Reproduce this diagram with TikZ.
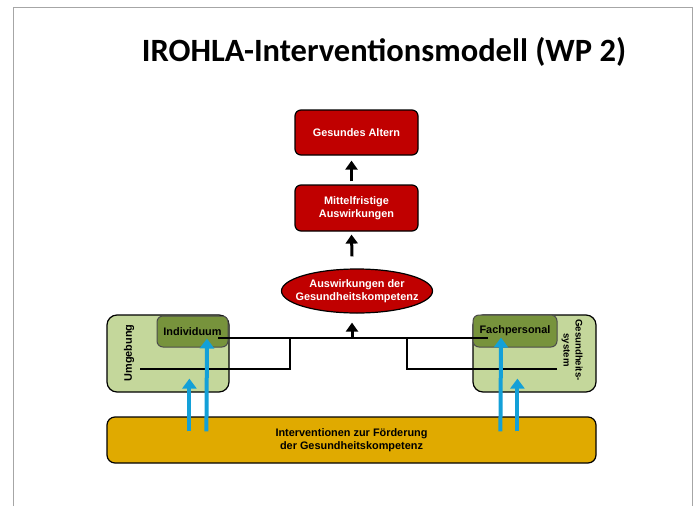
\documentclass[tikz,border=0pt]{standalone}
\usepackage{fontspec}
\setmainfont{Liberation Sans}
\newfontfamily\titlefont{Carlito}
\usetikzlibrary{arrows.meta,shapes.geometric}
\definecolor{boxred}{HTML}{C00000}
\definecolor{lightgreen}{HTML}{C4D79B}
\definecolor{darkgreen}{HTML}{77933C}
\definecolor{gold}{HTML}{E0AA00}
\definecolor{arrowblue}{HTML}{13A0D8}
\definecolor{framegrey}{HTML}{A6A6A6}
\begin{document}
\begin{tikzpicture}[x=1pt,y=-1pt,
  font=\fontsize{10.9}{12.5}\selectfont\bfseries,
  redbox/.style={draw=black, line width=1.2pt, fill=boxred, rounded corners=6pt,
    text=white, align=center, minimum width=123pt, minimum height=45pt, inner sep=0pt},
  redell/.style={ellipse, draw=black, line width=1.2pt, fill=boxred, text=white,
    align=center, minimum width=151pt, minimum height=44pt, inner xsep=-8.5pt, inner ysep=-2pt},
  outerbox/.style={draw=black, line width=1.2pt, fill=lightgreen, rounded corners=10pt,
    minimum width=122pt, minimum height=77pt, inner sep=0pt},
  innerbox/.style={draw=black!70, line width=1pt, fill=darkgreen, rounded corners=6pt,
    minimum height=31pt, inner sep=0pt},
  goldbox/.style={draw=black, line width=1.2pt, fill=gold, rounded corners=8pt,
    align=center, minimum width=489pt, minimum height=46pt, inner sep=0pt},
  blkarrow/.style={line width=3pt, -{Triangle[width=12pt,length=9pt]}},
  bluearrow/.style={arrowblue, line width=4pt, -{Triangle[width=14pt,length=10pt]}},
  conn/.style={line width=2pt, black},
  frameline/.style={framegrey, line width=1pt}
]
\useasboundingbox (0,0) rectangle (695,506);
\draw[frameline] (13,506) -- (13,7) -- (692,7) -- (692,506);

\node[font=\titlefont\fontsize{32.5}{36}\selectfont\bfseries, anchor=base] (title) at (384,61) {IROHLA-Interventionsmodell (WP 2)};

% top chain
\node[redbox] (ga) at (356.5,132.5) {Gesundes Altern};
\node[redbox, minimum height=46pt] (ma) at (356.5,208) {Mittelfristige\\Auswirkungen};
\node[redell] (ag) at (357,291) {Auswirkungen der\\Gesundheitskompetenz};

\draw[blkarrow] ([shift={(-5,-3)}]ma.north) -- ([shift={(-5,5)}]ga.south);
\draw[blkarrow] ([shift={(-5,-12)}]ag.north) -- ([shift={(-5,3)}]ma.south);

% bottom
\node[goldbox] (iv) at (351.5,440) {Interventionen zur Förderung\\der Gesundheitskompetenz};

\node[outerbox] (umg) at (168,353.5) {};
\node[innerbox, minimum width=71pt] (ind) at (192.5,331.5) {Individuum};
\node[rotate=90] (umgt) at (129,353) {Umgebung};

\node[outerbox, minimum width=123pt] (ges) at (534.5,353.5) {};
\node[innerbox, minimum width=84pt, minimum height=32pt] (fach) at (515,331) {Fachpersonal};
\node[rotate=-90, align=center, font=\fontsize{9.6}{12}\selectfont\bfseries] (gest) at (572,350) {Gesundheits-\\system};

% connector network
\coordinate (i1) at (218,338);
\coordinate (f1) at (488,338);
\coordinate (jl) at (290,338);
\coordinate (jr) at (407,338);
\coordinate (jm) at (352,338);
\coordinate (u1) at (140,369);
\coordinate (g1) at (557,369);
\draw[conn] (i1) -- (f1);
\draw[conn] (u1) -| (jl);
\draw[conn] (g1) -| (jr);
\draw[blkarrow] (jm) -- ([shift={(-5,9)}]ag.south);

% blue arrows
\draw[bluearrow] ([shift={(83,15)}]iv.north west) -- ([shift={(83,-14)}]umg.south west);
\draw[bluearrow] ([shift={(100,15)}]iv.north west) -- ([shift={(14.5,-9)}]ind.south);
\draw[bluearrow] ([shift={(394,15)}]iv.north west) -- ([shift={(-14,-10)}]fach.south);
\draw[bluearrow] ([shift={(411,15)}]iv.north west) -- ([shift={(411,-14)}]umg.south west);
\end{tikzpicture}
\end{document}
